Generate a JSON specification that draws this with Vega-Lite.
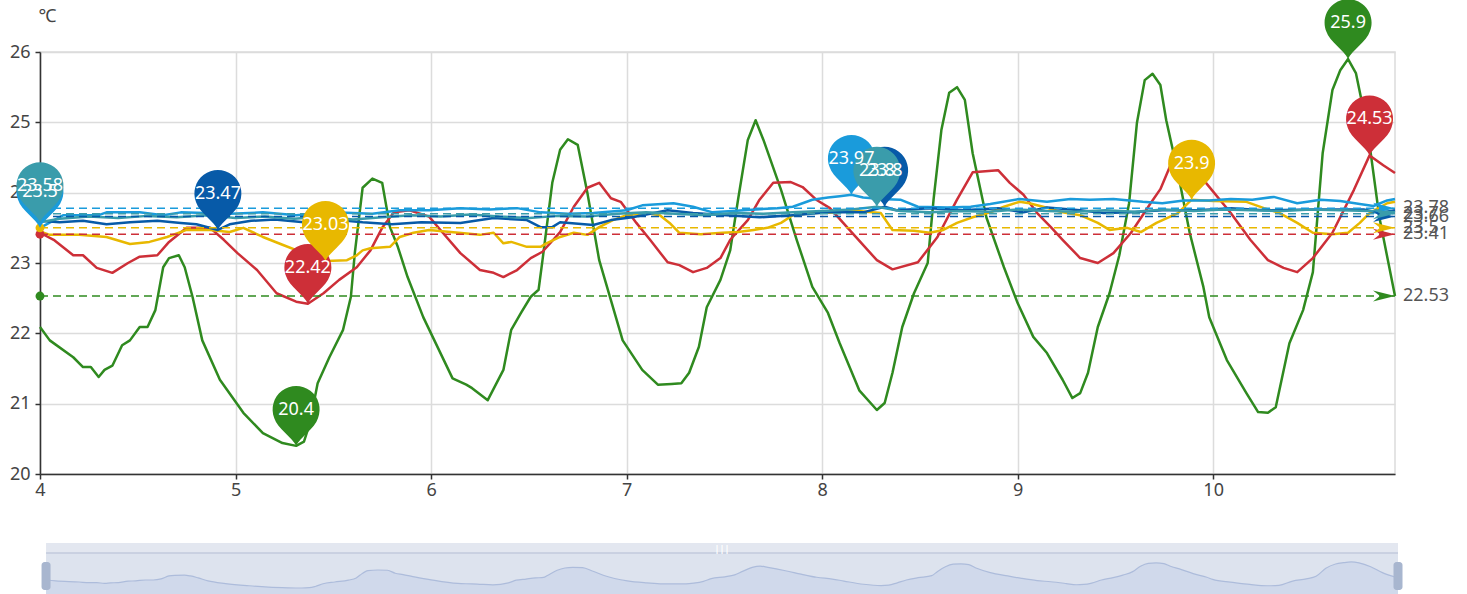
{
  "$schema": "https://vega.github.io/schema/vega-lite/v6.json",
  "background": "white",
  "padding": {"left": 8, "top": -2, "right": 0, "bottom": 0},
  "config": {"font": "Noto Sans", "view": {"stroke": null}},
  "bounds": "flush",
  "spacing": 69,
  "resolve": {"scale": {"x": "independent", "y": "independent", "color": "independent"}},
  "datasets": {
    "lines": [
      {"s":"s1","x":4.00,"y":22.09},{"s":"s1","x":4.05,"y":21.90},{"s":"s1","x":4.17,"y":21.66},{"s":"s1","x":4.22,"y":21.52},
      {"s":"s1","x":4.26,"y":21.52},{"s":"s1","x":4.30,"y":21.38},{"s":"s1","x":4.33,"y":21.48},{"s":"s1","x":4.37,"y":21.54},
      {"s":"s1","x":4.42,"y":21.83},{"s":"s1","x":4.46,"y":21.90},{"s":"s1","x":4.51,"y":22.09},{"s":"s1","x":4.55,"y":22.09},
      {"s":"s1","x":4.59,"y":22.33},{"s":"s1","x":4.63,"y":22.94},{"s":"s1","x":4.66,"y":23.07},{"s":"s1","x":4.71,"y":23.11},
      {"s":"s1","x":4.74,"y":22.94},{"s":"s1","x":4.78,"y":22.52},{"s":"s1","x":4.83,"y":21.90},{"s":"s1","x":4.92,"y":21.34},
      {"s":"s1","x":5.04,"y":20.87},{"s":"s1","x":5.14,"y":20.58},{"s":"s1","x":5.24,"y":20.44},{"s":"s1","x":5.31,"y":20.40},
      {"s":"s1","x":5.35,"y":20.46},{"s":"s1","x":5.38,"y":20.72},{"s":"s1","x":5.42,"y":21.29},{"s":"s1","x":5.48,"y":21.66},
      {"s":"s1","x":5.55,"y":22.05},{"s":"s1","x":5.59,"y":22.52},{"s":"s1","x":5.61,"y":23.14},{"s":"s1","x":5.65,"y":24.07},
      {"s":"s1","x":5.70,"y":24.20},{"s":"s1","x":5.75,"y":24.14},{"s":"s1","x":5.79,"y":23.51},{"s":"s1","x":5.83,"y":23.23},
      {"s":"s1","x":5.88,"y":22.80},{"s":"s1","x":5.96,"y":22.23},{"s":"s1","x":6.11,"y":21.36},{"s":"s1","x":6.18,"y":21.27},
      {"s":"s1","x":6.21,"y":21.22},{"s":"s1","x":6.29,"y":21.05},{"s":"s1","x":6.37,"y":21.48},{"s":"s1","x":6.41,"y":22.05},
      {"s":"s1","x":6.46,"y":22.29},{"s":"s1","x":6.51,"y":22.52},{"s":"s1","x":6.55,"y":22.62},{"s":"s1","x":6.57,"y":23.04},
      {"s":"s1","x":6.62,"y":24.14},{"s":"s1","x":6.66,"y":24.61},{"s":"s1","x":6.70,"y":24.76},{"s":"s1","x":6.75,"y":24.68},
      {"s":"s1","x":6.80,"y":23.99},{"s":"s1","x":6.86,"y":23.04},{"s":"s1","x":6.98,"y":21.90},{"s":"s1","x":7.08,"y":21.48},
      {"s":"s1","x":7.16,"y":21.27},{"s":"s1","x":7.23,"y":21.28},{"s":"s1","x":7.28,"y":21.29},{"s":"s1","x":7.32,"y":21.44},
      {"s":"s1","x":7.37,"y":21.81},{"s":"s1","x":7.41,"y":22.37},{"s":"s1","x":7.48,"y":22.76},{"s":"s1","x":7.53,"y":23.18},
      {"s":"s1","x":7.57,"y":23.90},{"s":"s1","x":7.62,"y":24.75},{"s":"s1","x":7.66,"y":25.03},{"s":"s1","x":7.70,"y":24.75},
      {"s":"s1","x":7.79,"y":24.04},{"s":"s1","x":7.87,"y":23.33},{"s":"s1","x":7.95,"y":22.66},{"s":"s1","x":8.03,"y":22.29},
      {"s":"s1","x":8.09,"y":21.86},{"s":"s1","x":8.19,"y":21.19},{"s":"s1","x":8.28,"y":20.91},{"s":"s1","x":8.32,"y":21.01},
      {"s":"s1","x":8.36,"y":21.44},{"s":"s1","x":8.41,"y":22.09},{"s":"s1","x":8.47,"y":22.57},{"s":"s1","x":8.54,"y":23.00},
      {"s":"s1","x":8.57,"y":23.90},{"s":"s1","x":8.61,"y":24.89},{"s":"s1","x":8.65,"y":25.42},{"s":"s1","x":8.69,"y":25.50},
      {"s":"s1","x":8.73,"y":25.32},{"s":"s1","x":8.77,"y":24.56},{"s":"s1","x":8.84,"y":23.65},{"s":"s1","x":8.93,"y":22.94},
      {"s":"s1","x":9.00,"y":22.43},{"s":"s1","x":9.08,"y":21.95},{"s":"s1","x":9.15,"y":21.72},{"s":"s1","x":9.23,"y":21.34},
      {"s":"s1","x":9.28,"y":21.08},{"s":"s1","x":9.32,"y":21.15},{"s":"s1","x":9.36,"y":21.44},{"s":"s1","x":9.41,"y":22.09},
      {"s":"s1","x":9.47,"y":22.57},{"s":"s1","x":9.52,"y":23.11},{"s":"s1","x":9.57,"y":23.85},{"s":"s1","x":9.61,"y":24.99},
      {"s":"s1","x":9.65,"y":25.60},{"s":"s1","x":9.69,"y":25.69},{"s":"s1","x":9.73,"y":25.53},{"s":"s1","x":9.76,"y":25.03},
      {"s":"s1","x":9.82,"y":24.28},{"s":"s1","x":9.88,"y":23.43},{"s":"s1","x":9.95,"y":22.66},{"s":"s1","x":9.98,"y":22.23},
      {"s":"s1","x":10.07,"y":21.62},{"s":"s1","x":10.17,"y":21.15},{"s":"s1","x":10.23,"y":20.88},{"s":"s1","x":10.28,"y":20.87},
      {"s":"s1","x":10.32,"y":20.95},{"s":"s1","x":10.39,"y":21.86},{"s":"s1","x":10.46,"y":22.33},{"s":"s1","x":10.51,"y":22.87},
      {"s":"s1","x":10.56,"y":24.56},{"s":"s1","x":10.61,"y":25.46},{"s":"s1","x":10.65,"y":25.74},{"s":"s1","x":10.69,"y":25.90},
      {"s":"s1","x":10.73,"y":25.70},{"s":"s1","x":10.79,"y":24.89},{"s":"s1","x":10.85,"y":23.65},{"s":"s1","x":10.93,"y":22.53},

      {"s":"s2","x":4.00,"y":23.43},{"s":"s2","x":4.07,"y":23.33},{"s":"s2","x":4.17,"y":23.11},{"s":"s2","x":4.22,"y":23.11},
      {"s":"s2","x":4.29,"y":22.93},{"s":"s2","x":4.37,"y":22.86},{"s":"s2","x":4.45,"y":23.00},{"s":"s2","x":4.51,"y":23.09},
      {"s":"s2","x":4.60,"y":23.11},{"s":"s2","x":4.66,"y":23.30},{"s":"s2","x":4.75,"y":23.50},{"s":"s2","x":4.87,"y":23.50},
      {"s":"s2","x":4.94,"y":23.33},{"s":"s2","x":5.01,"y":23.14},{"s":"s2","x":5.11,"y":22.90},{"s":"s2","x":5.21,"y":22.57},
      {"s":"s2","x":5.31,"y":22.45},{"s":"s2","x":5.37,"y":22.42},{"s":"s2","x":5.45,"y":22.57},{"s":"s2","x":5.53,"y":22.76},
      {"s":"s2","x":5.62,"y":22.94},{"s":"s2","x":5.69,"y":23.18},{"s":"s2","x":5.75,"y":23.50},{"s":"s2","x":5.81,"y":23.72},
      {"s":"s2","x":5.89,"y":23.75},{"s":"s2","x":5.99,"y":23.66},{"s":"s2","x":6.06,"y":23.43},{"s":"s2","x":6.15,"y":23.14},
      {"s":"s2","x":6.25,"y":22.90},{"s":"s2","x":6.32,"y":22.86},{"s":"s2","x":6.37,"y":22.80},{"s":"s2","x":6.44,"y":22.90},
      {"s":"s2","x":6.51,"y":23.07},{"s":"s2","x":6.57,"y":23.16},{"s":"s2","x":6.66,"y":23.44},{"s":"s2","x":6.73,"y":23.80},
      {"s":"s2","x":6.80,"y":24.07},{"s":"s2","x":6.86,"y":24.14},{"s":"s2","x":6.92,"y":23.92},{"s":"s2","x":6.97,"y":23.87},
      {"s":"s2","x":7.05,"y":23.57},{"s":"s2","x":7.12,"y":23.33},{"s":"s2","x":7.21,"y":23.01},{"s":"s2","x":7.27,"y":22.97},
      {"s":"s2","x":7.34,"y":22.87},{"s":"s2","x":7.41,"y":22.93},{"s":"s2","x":7.48,"y":23.07},{"s":"s2","x":7.53,"y":23.33},
      {"s":"s2","x":7.62,"y":23.61},{"s":"s2","x":7.68,"y":23.90},{"s":"s2","x":7.75,"y":24.14},{"s":"s2","x":7.84,"y":24.15},
      {"s":"s2","x":7.90,"y":24.08},{"s":"s2","x":7.97,"y":23.90},{"s":"s2","x":8.04,"y":23.78},{"s":"s2","x":8.14,"y":23.47},
      {"s":"s2","x":8.28,"y":23.04},{"s":"s2","x":8.36,"y":22.91},{"s":"s2","x":8.49,"y":23.01},{"s":"s2","x":8.59,"y":23.37},
      {"s":"s2","x":8.69,"y":23.90},{"s":"s2","x":8.77,"y":24.29},{"s":"s2","x":8.90,"y":24.32},{"s":"s2","x":8.96,"y":24.14},
      {"s":"s2","x":9.03,"y":23.97},{"s":"s2","x":9.10,"y":23.71},{"s":"s2","x":9.17,"y":23.51},{"s":"s2","x":9.23,"y":23.33},
      {"s":"s2","x":9.32,"y":23.07},{"s":"s2","x":9.41,"y":23.00},{"s":"s2","x":9.49,"y":23.14},{"s":"s2","x":9.58,"y":23.43},
      {"s":"s2","x":9.68,"y":23.85},{"s":"s2","x":9.73,"y":24.05},{"s":"s2","x":9.78,"y":24.38},{"s":"s2","x":9.86,"y":24.45},
      {"s":"s2","x":9.93,"y":24.25},{"s":"s2","x":9.96,"y":24.15},{"s":"s2","x":10.09,"y":23.71},{"s":"s2","x":10.19,"y":23.33},
      {"s":"s2","x":10.28,"y":23.04},{"s":"s2","x":10.36,"y":22.93},{"s":"s2","x":10.43,"y":22.87},{"s":"s2","x":10.51,"y":23.07},
      {"s":"s2","x":10.61,"y":23.43},{"s":"s2","x":10.72,"y":24.04},{"s":"s2","x":10.80,"y":24.53},{"s":"s2","x":10.87,"y":24.39},
      {"s":"s2","x":10.93,"y":24.28},

      {"s":"s3","x":4.00,"y":23.45},{"s":"s3","x":4.05,"y":23.40},{"s":"s3","x":4.20,"y":23.40},{"s":"s3","x":4.34,"y":23.37},
      {"s":"s3","x":4.46,"y":23.27},{"s":"s3","x":4.56,"y":23.30},{"s":"s3","x":4.65,"y":23.37},{"s":"s3","x":4.75,"y":23.47},
      {"s":"s3","x":4.87,"y":23.47},{"s":"s3","x":4.97,"y":23.44},{"s":"s3","x":5.04,"y":23.50},{"s":"s3","x":5.14,"y":23.37},
      {"s":"s3","x":5.24,"y":23.26},{"s":"s3","x":5.35,"y":23.14},{"s":"s3","x":5.46,"y":23.03},{"s":"s3","x":5.57,"y":23.04},
      {"s":"s3","x":5.62,"y":23.11},{"s":"s3","x":5.65,"y":23.18},{"s":"s3","x":5.69,"y":23.21},{"s":"s3","x":5.79,"y":23.23},
      {"s":"s3","x":5.84,"y":23.37},{"s":"s3","x":5.91,"y":23.43},{"s":"s3","x":5.99,"y":23.47},{"s":"s3","x":6.10,"y":23.44},
      {"s":"s3","x":6.25,"y":23.40},{"s":"s3","x":6.32,"y":23.43},{"s":"s3","x":6.37,"y":23.28},{"s":"s3","x":6.41,"y":23.30},
      {"s":"s3","x":6.49,"y":23.23},{"s":"s3","x":6.56,"y":23.23},{"s":"s3","x":6.59,"y":23.28},{"s":"s3","x":6.66,"y":23.37},
      {"s":"s3","x":6.73,"y":23.43},{"s":"s3","x":6.80,"y":23.40},{"s":"s3","x":6.86,"y":23.51},{"s":"s3","x":6.93,"y":23.61},
      {"s":"s3","x":7.00,"y":23.68},{"s":"s3","x":7.10,"y":23.71},{"s":"s3","x":7.17,"y":23.68},{"s":"s3","x":7.22,"y":23.57},
      {"s":"s3","x":7.27,"y":23.43},{"s":"s3","x":7.38,"y":23.41},{"s":"s3","x":7.49,"y":23.43},{"s":"s3","x":7.57,"y":23.44},
      {"s":"s3","x":7.65,"y":23.47},{"s":"s3","x":7.72,"y":23.50},{"s":"s3","x":7.79,"y":23.57},{"s":"s3","x":7.85,"y":23.68},
      {"s":"s3","x":7.95,"y":23.71},{"s":"s3","x":8.09,"y":23.72},{"s":"s3","x":8.14,"y":23.75},{"s":"s3","x":8.30,"y":23.71},
      {"s":"s3","x":8.36,"y":23.47},{"s":"s3","x":8.47,"y":23.46},{"s":"s3","x":8.55,"y":23.43},{"s":"s3","x":8.62,"y":23.47},
      {"s":"s3","x":8.69,"y":23.57},{"s":"s3","x":8.77,"y":23.65},{"s":"s3","x":8.86,"y":23.72},{"s":"s3","x":8.93,"y":23.80},
      {"s":"s3","x":9.01,"y":23.87},{"s":"s3","x":9.06,"y":23.85},{"s":"s3","x":9.13,"y":23.80},{"s":"s3","x":9.23,"y":23.72},
      {"s":"s3","x":9.32,"y":23.68},{"s":"s3","x":9.41,"y":23.57},{"s":"s3","x":9.47,"y":23.47},{"s":"s3","x":9.56,"y":23.50},
      {"s":"s3","x":9.63,"y":23.44},{"s":"s3","x":9.71,"y":23.57},{"s":"s3","x":9.82,"y":23.71},{"s":"s3","x":9.89,"y":23.90},
      {"s":"s3","x":10.00,"y":23.88},{"s":"s3","x":10.17,"y":23.87},{"s":"s3","x":10.26,"y":23.78},{"s":"s3","x":10.34,"y":23.71},
      {"s":"s3","x":10.43,"y":23.57},{"s":"s3","x":10.51,"y":23.43},{"s":"s3","x":10.61,"y":23.41},{"s":"s3","x":10.69,"y":23.43},
      {"s":"s3","x":10.75,"y":23.57},{"s":"s3","x":10.80,"y":23.71},{"s":"s3","x":10.89,"y":23.85},{"s":"s3","x":10.93,"y":23.87},

      {"s":"s4","x":4.00,"y":23.50},{"s":"s4","x":4.12,"y":23.68},{"s":"s4","x":4.30,"y":23.68},{"s":"s4","x":4.34,"y":23.72},
      {"s":"s4","x":4.51,"y":23.72},{"s":"s4","x":4.63,"y":23.68},{"s":"s4","x":4.72,"y":23.72},{"s":"s4","x":4.97,"y":23.70},
      {"s":"s4","x":5.14,"y":23.72},{"s":"s4","x":5.31,"y":23.68},{"s":"s4","x":5.50,"y":23.72},{"s":"s4","x":5.70,"y":23.70},
      {"s":"s4","x":5.84,"y":23.75},{"s":"s4","x":5.99,"y":23.75},{"s":"s4","x":6.15,"y":23.78},{"s":"s4","x":6.30,"y":23.76},
      {"s":"s4","x":6.44,"y":23.78},{"s":"s4","x":6.56,"y":23.72},{"s":"s4","x":6.70,"y":23.70},{"s":"s4","x":6.83,"y":23.71},
      {"s":"s4","x":7.00,"y":23.75},{"s":"s4","x":7.08,"y":23.82},{"s":"s4","x":7.24,"y":23.85},{"s":"s4","x":7.34,"y":23.80},
      {"s":"s4","x":7.44,"y":23.72},{"s":"s4","x":7.60,"y":23.75},{"s":"s4","x":7.77,"y":23.78},{"s":"s4","x":7.85,"y":23.80},
      {"s":"s4","x":7.95,"y":23.90},{"s":"s4","x":8.03,"y":23.93},{"s":"s4","x":8.09,"y":23.95},{"s":"s4","x":8.15,"y":23.97},
      {"s":"s4","x":8.21,"y":23.93},{"s":"s4","x":8.30,"y":23.91},{"s":"s4","x":8.40,"y":23.90},{"s":"s4","x":8.49,"y":23.80},
      {"s":"s4","x":8.64,"y":23.79},{"s":"s4","x":8.76,"y":23.80},{"s":"s4","x":8.86,"y":23.84},{"s":"s4","x":9.01,"y":23.91},
      {"s":"s4","x":9.15,"y":23.87},{"s":"s4","x":9.27,"y":23.91},{"s":"s4","x":9.37,"y":23.90},{"s":"s4","x":9.49,"y":23.91},
      {"s":"s4","x":9.64,"y":23.87},{"s":"s4","x":9.74,"y":23.85},{"s":"s4","x":9.85,"y":23.89},{"s":"s4","x":9.98,"y":23.89},
      {"s":"s4","x":10.09,"y":23.91},{"s":"s4","x":10.20,"y":23.90},{"s":"s4","x":10.31,"y":23.94},{"s":"s4","x":10.43,"y":23.85},
      {"s":"s4","x":10.55,"y":23.90},{"s":"s4","x":10.65,"y":23.88},{"s":"s4","x":10.75,"y":23.84},{"s":"s4","x":10.82,"y":23.81},
      {"s":"s4","x":10.89,"y":23.89},{"s":"s4","x":10.93,"y":23.91},

      {"s":"s5","x":4.00,"y":23.60},{"s":"s5","x":4.10,"y":23.58},{"s":"s5","x":4.22,"y":23.60},{"s":"s5","x":4.34,"y":23.55},
      {"s":"s5","x":4.46,"y":23.58},{"s":"s5","x":4.60,"y":23.60},{"s":"s5","x":4.72,"y":23.57},{"s":"s5","x":4.80,"y":23.55},
      {"s":"s5","x":4.91,"y":23.47},{"s":"s5","x":4.97,"y":23.55},{"s":"s5","x":5.08,"y":23.60},{"s":"s5","x":5.20,"y":23.62},
      {"s":"s5","x":5.35,"y":23.58},{"s":"s5","x":5.50,"y":23.62},{"s":"s5","x":5.65,"y":23.58},{"s":"s5","x":5.80,"y":23.55},
      {"s":"s5","x":5.95,"y":23.58},{"s":"s5","x":6.15,"y":23.57},{"s":"s5","x":6.32,"y":23.64},{"s":"s5","x":6.49,"y":23.61},
      {"s":"s5","x":6.56,"y":23.51},{"s":"s5","x":6.62,"y":23.51},{"s":"s5","x":6.66,"y":23.58},{"s":"s5","x":6.83,"y":23.54},
      {"s":"s5","x":6.92,"y":23.61},{"s":"s5","x":7.03,"y":23.65},{"s":"s5","x":7.21,"y":23.75},{"s":"s5","x":7.34,"y":23.71},
      {"s":"s5","x":7.51,"y":23.68},{"s":"s5","x":7.68,"y":23.65},{"s":"s5","x":7.85,"y":23.68},{"s":"s5","x":8.03,"y":23.72},
      {"s":"s5","x":8.21,"y":23.72},{"s":"s5","x":8.32,"y":23.80},{"s":"s5","x":8.38,"y":23.75},{"s":"s5","x":8.55,"y":23.78},
      {"s":"s5","x":8.72,"y":23.75},{"s":"s5","x":8.90,"y":23.78},{"s":"s5","x":9.03,"y":23.72},{"s":"s5","x":9.15,"y":23.79},
      {"s":"s5","x":9.32,"y":23.75},{"s":"s5","x":9.44,"y":23.71},{"s":"s5","x":9.58,"y":23.72},{"s":"s5","x":9.74,"y":23.75},
      {"s":"s5","x":9.92,"y":23.75},{"s":"s5","x":10.09,"y":23.78},{"s":"s5","x":10.26,"y":23.75},{"s":"s5","x":10.51,"y":23.76},
      {"s":"s5","x":10.77,"y":23.76},{"s":"s5","x":10.85,"y":23.71},{"s":"s5","x":10.93,"y":23.75},

      {"s":"s6","x":4.00,"y":23.58},{"s":"s6","x":4.10,"y":23.63},{"s":"s6","x":4.25,"y":23.66},{"s":"s6","x":4.40,"y":23.64},
      {"s":"s6","x":4.55,"y":23.67},{"s":"s6","x":4.70,"y":23.65},{"s":"s6","x":4.85,"y":23.68},{"s":"s6","x":5.00,"y":23.64},
      {"s":"s6","x":5.15,"y":23.66},{"s":"s6","x":5.30,"y":23.63},{"s":"s6","x":5.45,"y":23.66},{"s":"s6","x":5.60,"y":23.62},
      {"s":"s6","x":5.75,"y":23.65},{"s":"s6","x":5.90,"y":23.68},{"s":"s6","x":6.05,"y":23.66},{"s":"s6","x":6.20,"y":23.69},
      {"s":"s6","x":6.35,"y":23.66},{"s":"s6","x":6.50,"y":23.64},{"s":"s6","x":6.65,"y":23.67},{"s":"s6","x":6.80,"y":23.66},
      {"s":"s6","x":6.95,"y":23.70},{"s":"s6","x":7.10,"y":23.72},{"s":"s6","x":7.25,"y":23.70},{"s":"s6","x":7.40,"y":23.68},
      {"s":"s6","x":7.55,"y":23.71},{"s":"s6","x":7.70,"y":23.70},{"s":"s6","x":7.85,"y":23.72},{"s":"s6","x":8.00,"y":23.74},
      {"s":"s6","x":8.15,"y":23.76},{"s":"s6","x":8.28,"y":23.80},{"s":"s6","x":8.40,"y":23.74},{"s":"s6","x":8.55,"y":23.72},
      {"s":"s6","x":8.70,"y":23.74},{"s":"s6","x":8.85,"y":23.73},{"s":"s6","x":9.00,"y":23.76},{"s":"s6","x":9.15,"y":23.74},
      {"s":"s6","x":9.30,"y":23.73},{"s":"s6","x":9.45,"y":23.75},{"s":"s6","x":9.60,"y":23.73},{"s":"s6","x":9.75,"y":23.76},
      {"s":"s6","x":9.90,"y":23.74},{"s":"s6","x":10.05,"y":23.76},{"s":"s6","x":10.20,"y":23.75},{"s":"s6","x":10.35,"y":23.74},
      {"s":"s6","x":10.50,"y":23.76},{"s":"s6","x":10.65,"y":23.75},{"s":"s6","x":10.80,"y":23.74},{"s":"s6","x":10.93,"y":23.72}
    ],
    "means": [
      {"s":"s1","x":4,"xe":10.93,"y":22.53,"label":"22.53"},
      {"s":"s2","x":4,"xe":10.93,"y":23.41,"label":"23.41"},
      {"s":"s3","x":4,"xe":10.93,"y":23.5,"label":"23.5"},
      {"s":"s4","x":4,"xe":10.93,"y":23.78,"label":"23.78"},
      {"s":"s5","x":4,"xe":10.93,"y":23.66,"label":"23.66"},
      {"s":"s6","x":4,"xe":10.93,"y":23.7,"label":"23.7"}
    ],
    "pins": [
      {"s":"s1","x":10.69,"y":25.9,"label":"25.9"},
      {"s":"s1","x":5.31,"y":20.4,"label":"20.4"},
      {"s":"s2","x":10.8,"y":24.53,"label":"24.53"},
      {"s":"s2","x":5.37,"y":22.42,"label":"22.42"},
      {"s":"s3","x":9.89,"y":23.9,"label":"23.9"},
      {"s":"s3","x":5.46,"y":23.03,"label":"23.03"},
      {"s":"s4","x":8.15,"y":23.97,"label":"23.97"},
      {"s":"s4","x":4,"y":23.5,"label":"23.5"},
      {"s":"s5","x":8.32,"y":23.8,"label":"23.8"},
      {"s":"s5","x":4.91,"y":23.47,"label":"23.47"},
      {"s":"s6","x":8.28,"y":23.8,"label":"23.8"},
      {"s":"s6","x":4,"y":23.58,"label":"23.58"}
    ],
    "slider": [
      {"part":"band","x":4,"xe":10.93,"y":29.89,"ye":27.78},
      {"part":"body","x":4,"xe":10.93,"y":27.78,"ye":18.29}
    ],
    "sliderEdge": [{"x":4,"xe":10.93,"y":27.78}],
    "handles": [{"x":4,"y":25.88,"ye":19.97},{"x":10.93,"y":25.88,"ye":19.97}],
    "grip": [{"x":7.465,"y":28.62,"label":"|||"}]
  },
  "vconcat": [
    {
      "width": 1355,
      "height": 422,
      "view": {"stroke": "#dcdcdc", "strokeWidth": 1.5},
      "encoding": {
        "x": {
          "field": "x", "type": "quantitative",
          "scale": {"domain": [4, 10.93], "nice": false, "zero": false},
          "axis": {
            "values": [4, 5, 6, 7, 8, 9, 10], "title": null,
            "grid": true, "gridColor": "#dcdcdc", "gridWidth": 1.5,
            "domainColor": "#333", "domainWidth": 1.5,
            "tickColor": "#333", "tickSize": 5, "tickWidth": 1.5,
            "labelFontSize": 18, "labelColor": "#444", "labelPadding": 2, "labelFlush": false
          }
        },
        "y": {
          "field": "y", "type": "quantitative",
          "scale": {"domain": [20, 26], "nice": false, "zero": false},
          "axis": {
            "values": [20, 21, 22, 23, 24, 25, 26],
            "title": "℃", "titleAngle": 0, "titleX": 7, "titleY": -36,
            "titleAlign": "center", "titleBaseline": "middle",
            "titleFontSize": 18, "titleFontWeight": "normal", "titleColor": "#444",
            "grid": true, "gridColor": "#dcdcdc", "gridWidth": 1.5,
            "domainColor": "#333", "domainWidth": 1.5,
            "tickColor": "#333", "tickSize": 5, "tickWidth": 1.5,
            "labelFontSize": 18, "labelColor": "#444", "labelPadding": 5
          }
        },
        "color": {
          "field": "s", "type": "nominal", "legend": null,
          "scale": {
            "domain": ["s1", "s2", "s3", "s4", "s5", "s6"],
            "range": ["#2f8a1f", "#cd2f38", "#e8b800", "#1a9bdb", "#075aa8", "#3a9cab"]
          }
        }
      },
      "layer": [
        {
          "data": {"name": "lines"},
          "mark": {"type": "line", "strokeWidth": 2.5, "strokeJoin": "round"}
        },
        {
          "data": {"name": "means"},
          "mark": {"type": "rule", "strokeDash": [8, 5], "strokeWidth": 1.5},
          "encoding": {"x2": {"field": "xe"}}
        },
        {
          "data": {"name": "means"},
          "mark": {"type": "point", "filled": true, "opacity": 1, "size": 80, "shape": "circle"}
        },
        {
          "data": {"name": "means"},
          "mark": {"type": "point", "filled": true, "opacity": 1, "size": 400,
                   "shape": "M0,0 L-2.2,-0.55 L-1.5,0 L-2.2,0.55 Z"},
          "encoding": {"x": {"field": "xe", "type": "quantitative"}}
        },
        {
          "data": {"name": "means"},
          "mark": {"type": "text", "align": "left", "baseline": "middle", "dx": 8,
                   "fontSize": 18, "fill": "#555"},
          "encoding": {
            "x": {"field": "xe", "type": "quantitative"},
            "text": {"field": "label"},
            "color": {"value": "#555"}
          }
        },
        {
          "data": {"name": "pins"},
          "mark": {"type": "point", "filled": true, "opacity": 1, "size": 2209,
                   "shape": "M0,0 C-0.15,-0.35 -0.8,-0.75 -0.93,-1.18 A1,1 0 1 1 0.93,-1.18 C0.8,-0.75 0.15,-0.35 0,0 Z"}
        },
        {
          "data": {"name": "pins"},
          "mark": {"type": "text", "baseline": "middle", "align": "center", "dy": -36, "fontSize": 18},
          "encoding": {"text": {"field": "label"}, "color": {"value": "white"}}
        }
      ]
    },
    {
      "width": 1358,
      "height": 55,
      "view": {"stroke": null},
      "encoding": {
        "x": {"field": "x", "type": "quantitative",
              "scale": {"domain": [3.969, 10.93], "nice": false, "zero": false, "padding": 0}, "axis": null},
        "y": {"field": "y", "type": "quantitative",
              "scale": {"domain": [18.29, 29.89], "nice": false, "zero": false}, "axis": null}
      },
      "layer": [
        {
          "data": {"name": "slider"},
          "mark": {"type": "rect"},
          "encoding": {
            "x2": {"field": "xe"},
            "y2": {"field": "ye"},
            "color": {"field": "part", "type": "nominal", "legend": null,
                      "scale": {"domain": ["band", "body"], "range": ["#e3e7f0", "#dde3ee"]}}
          }
        },
        {
          "data": {"name": "lines"},
          "transform": [{"filter": "datum.s === 's1'"}],
          "mark": {"type": "area", "interpolate": "monotone", "color": "#cbd4e9", "clip": true,
                   "line": {"color": "#adbcdb", "strokeWidth": 1.2}}
        },
        {
          "data": {"name": "sliderEdge"},
          "mark": {"type": "rule", "color": "#c2cadc", "strokeWidth": 1.5},
          "encoding": {"x2": {"field": "xe"}}
        },
        {
          "data": {"name": "handles"},
          "mark": {"type": "bar", "width": 9, "cornerRadius": 3, "color": "#a8b6cf"},
          "encoding": {"y2": {"field": "ye"}}
        },
        {
          "data": {"name": "grip"},
          "mark": {"type": "text", "fontSize": 9, "fontWeight": "bold", "baseline": "middle", "color": "white"},
          "encoding": {"text": {"field": "label"}}
        }
      ]
    }
  ]
}
